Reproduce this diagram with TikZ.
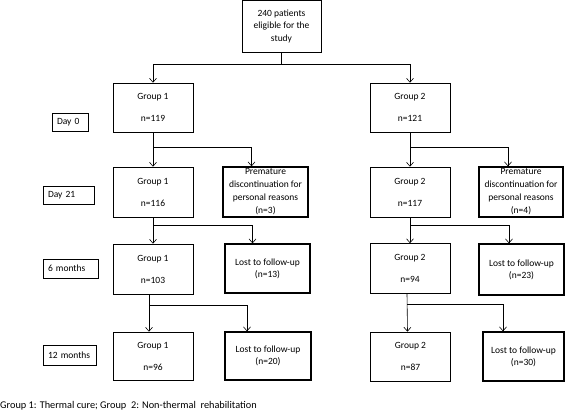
\documentclass[tikz,border=0pt]{standalone}
\usepackage{fontspec}
\setmainfont{Carlito}
\usetikzlibrary{arrows.meta}

\begin{document}
\begin{tikzpicture}[x=1pt, y=-1pt, every node/.style={font=\fontsize{9.5}{12}\selectfont}, grp/.style={draw, line width=0.6pt, align=center, inner sep=0pt, minimum width=80pt, minimum height=#1}, grp/.default=50pt, side/.style={draw, line width=1.3pt, align=center, inner sep=0pt, minimum width=#1, minimum height=50pt}, day/.style={draw, line width=0.8pt, inner xsep=5pt, inner ysep=0pt, minimum height=18pt, text width=#1, align=left}, arr/.style={-{Straight Barb[length=4pt,width=7pt]}, line width=0.6pt}]
\useasboundingbox (0,0) rectangle (565,410);
% start
\node[draw, line width=0.6pt, align=center, inner sep=0pt, minimum width=79pt, minimum height=52pt, font=\fontsize{9.5}{12.5}\selectfont] (top) at (281.5,26) {240 patients\\eligible for the\\study};
% time points
\node[day=26pt] (d0) at (70,122) {Day 0};
\node[day=41pt] (d21) at (68.5,195) {Day 21};
\node[day=45pt, minimum height=19pt] (m6) at (70.5,268.5) {6 months};
\node[day=43pt, minimum height=20pt] (m12) at (69.5,355) {12 months};
% group 1
\node[grp=49pt] (g1d0) at (153,107.5) {Group 1\\[10pt]n=119};
\node[grp] (g1d21) at (153,192) {Group 1\\[10pt]n=116};
\node[side=85pt, font=\fontsize{9.5}{13}\selectfont] (pm1) at (265.5,192) {Premature\\discontinuation for\\personal reasons\\(n=3)};
\node[grp] (g1m6) at (153,269) {Group 1\\[10pt]n=103};
\node[side=85pt, minimum height=49pt] (lm1) at (267.5,268.5) {Lost to follow-up\\(n=13)};
\node[grp=48pt] (g1m12) at (153,356) {Group 1\\[10pt]n=96};
\node[side=86pt, minimum height=48pt] (lm3) at (268,356) {Lost to follow-up\\(n=20)};
% group 2
\node[grp=49pt] (g2d0) at (410,107.5) {Group 2\\[10pt]n=121};
\node[grp] (g2d21) at (410,192) {Group 2\\[10pt]n=117};
\node[side=84pt, font=\fontsize{9.5}{13}\selectfont] (pm2) at (521,192) {Premature\\discontinuation for\\personal reasons\\(n=4)};
\node[grp] (g2m6) at (410,268.5) {Group 2\\[10pt]n=94};
\node[side=85pt, minimum height=51pt] (lm2) at (521.5,269.5) {Lost to follow-up\\(n=23)};
\node[grp=49pt] (g2m12) at (410.5,356.5) {Group 2\\[10pt]n=87};
\node[side=81pt, minimum height=49pt] (lm4) at (523.5,356.5) {Lost to follow-up\\(n=30)};
\node[anchor=west, inner sep=0pt, font=\fontsize{10.3}{12}\selectfont] (note) at (0,406) {Group 1: Thermal cure; Group~ 2: Non-thermal~ rehabilitation};
% arrows
\draw[arr] (top.south) -- ++(0,12) -| (g1d0.north);
\draw[arr] (top.south) ++(0,12) -| (g2d0.north);
\draw[arr] (g1d0.south) -- (g1d21.north);
\draw[arr] (g1d0.south) ++(0,15) -| ([xshift=-14pt]pm1.north);
\draw[arr] (g2d0.south) -- (g2d21.north);
\draw[arr] (g2d0.south) ++(0,15) -| ([xshift=-13pt]pm2.north);
\draw[arr] (g1d21.south) -- (g1m6.north);
\draw[arr] (g1d21.south) ++(0,8) -| ([xshift=-15pt]lm1.north);
\draw[arr] (g2d21.south) -- (g2m6.north);
\draw[arr] (g2d21.south) ++(0,8) -| ([xshift=-12.5pt]lm2.north);
\draw[arr] ([xshift=-4pt]g1m6.south) -- ([xshift=-4pt]g1m12.north);
\draw[arr] ([xshift=-4pt]g1m6.south) ++(0,10.5) -| ([xshift=-21pt]lm3.north);
\draw[arr] ([xshift=-3pt]g2m6.south) -- ([xshift=-3pt]g2m12.north);
\draw[arr] ([xshift=-3pt]g2m6.south) ++(0,10.5) -| ([xshift=-20.5pt]lm4.north);
\end{tikzpicture}
\end{document}
